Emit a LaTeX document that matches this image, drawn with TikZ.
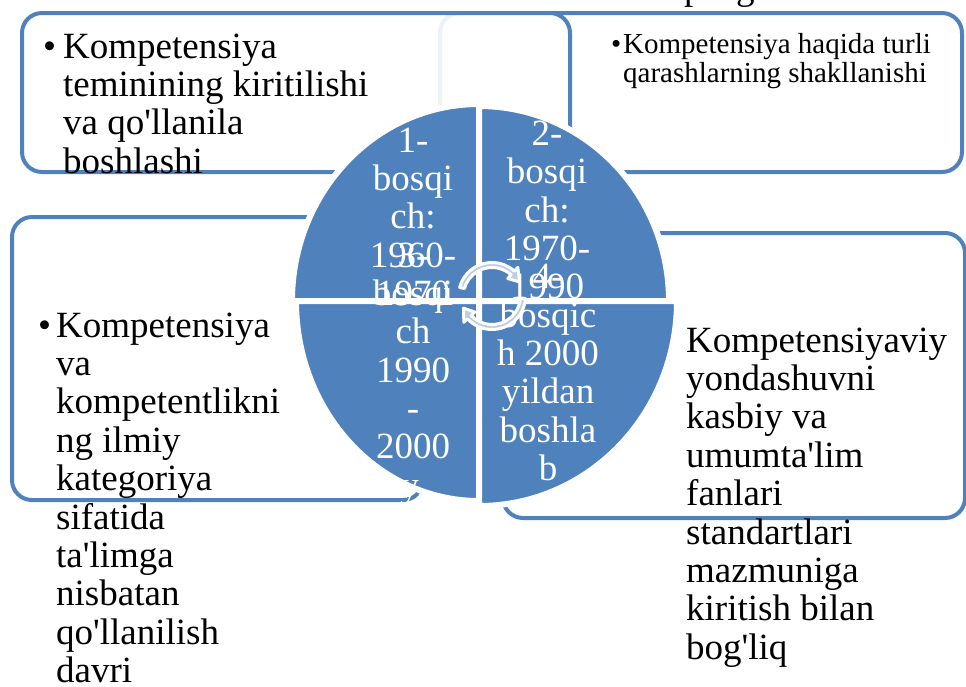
\documentclass[tikz,border=0pt]{standalone}
\usepackage{fontspec}
\setmainfont{Liberation Serif}[Ligatures=TeXOff]
\definecolor{accent}{RGB}{79,129,189}
\definecolor{arrowfill}{RGB}{190,205,228}
\begin{document}
\begin{tikzpicture}[x=1pt,y=-1pt,
  frame/.style={draw=accent, line width=4pt, rounded corners=20pt, fill=white, inner sep=0pt, outer sep=0pt},
  big/.style={font=\fontsize{37}{38}\selectfont, inner sep=0pt},
  small/.style={font=\fontsize{29}{29}\selectfont, inner sep=0pt},
  bline/.style={big, anchor=base west},
  sline/.style={small, anchor=base west},
  qtext/.style={big, anchor=base, text=white},
  quad/.style={fill=accent, draw=white, line width=6pt},
  carrow/.style={fill=arrowfill, draw=white, line width=3pt, line join=round}]
\useasboundingbox (0,0) rectangle (966,686);
\clip (0,0) rectangle (966,686);

% cut-off text fragments at the top edge
\node[big, anchor=base west] (fragp) at (684,-1) {p};
\node[big, anchor=base west] (fragg) at (736,-1) {g};

% corner boxes
\node[frame, minimum width=522pt, minimum height=159pt, anchor=north west] (tr) at (440,13) {};
\node[frame, fill opacity=0.9, minimum width=548pt, minimum height=159pt, anchor=north west] (tl) at (22,13) {};
\node[frame, minimum width=411pt, minimum height=283pt, anchor=north west] (bl) at (12,217) {};
\node[frame, minimum width=462pt, minimum height=285pt, anchor=north west] (br) at (503,233) {};

% box texts
\node[bline] (tlb) at (43,58) {•};
\foreach \t [count=\i from 0] in {Kompetensiya, teminining kiritilishi, va qo'llanila, boshlashi}
  \node[bline] (tl\i) at (63,{58+38.4*\i}) {\t};

\node[sline] (trb) at (611,53) {•};
\node[sline] (tr0) at (623,53) {Kompetensiya haqida turli};
\node[sline] (tr1) at (623,82) {qarashlarning shakllanishi};

\node[bline] (blb) at (38,337) {•};
\foreach \t [count=\i from 0] in {Kompetensiya, va, kompetentlikni, ng ilmiy, kategoriya, sifatida, ta'limga, nisbatan, qo'llanilish, davri}
  \node[bline] (bl\i) at (56,{337+38.4*\i}) {\t};

\foreach \t [count=\i from 0] in {Kompetensiyaviy, yondashuvni, kasbiy va, umumta'lim, fanlari, standartlari, mazmuniga, kiritish bilan, bog'liq}
  \node[bline] (br\i) at (686,{352+38.4*\i}) {\t};

% circle quadrants
\coordinate (c) at (479,301);
\draw[quad] (c) -- ++(-187,0) arc[start angle=180, end angle=270, x radius=187, y radius=197] -- cycle;
\draw[quad] (c) -- ++(0,-195) arc[start angle=270, end angle=360, x radius=190, y radius=195] -- cycle;
\draw[quad] (c) -- ++(-183,0) arc[start angle=180, end angle=90, x radius=183, y radius=200] -- cycle;
\draw[quad] (c) -- ++(198,0) arc[start angle=0, end angle=90, x radius=198, y radius=205] -- cycle;

% quadrant texts
\foreach \t/\y [count=\i] in {1-/152, bosqi/190, ch:/228, 1960-/267, 1970/305}
  \node[qtext] (qa\i) at (413,\y) {\t};
\foreach \t/\y [count=\i] in {2-/145, bosqi/183, ch:/222, 1970-/260, 1990/298}
  \node[qtext] (qb\i) at (547,\y) {\t};
\foreach \t/\y [count=\i] in {3-/267, bosqi/305, ch/343, 1990/382, -/420, 2000/458, y./497}
  \node[qtext] (qc\i) at (413,\y) {\t};
\foreach \t/\y [count=\i] in {4-/288, bosqic/327, h 2000/365, yildan/403, boshla/442, b/480}
  \node[qtext] (qd\i) at (548,\y) {\t};

% central circular arrows
\begin{scope}[shift={(492,296)}, yscale=-1]
  \draw[carrow] (165:28.5) arc[start angle=165, end angle=48, radius=28.5]
     -- (48:23.5) -- (27:31) -- (48:38.5) -- (48:33.5)
     arc[start angle=48, end angle=165, radius=33.5] -- cycle;
  \draw[carrow] (-5:28.5) arc[start angle=-5, end angle=-137, radius=28.5]
     -- (-137:23.5) -- (-157:31) -- (-137:38.5) -- (-137:33.5)
     arc[start angle=-137, end angle=-5, radius=33.5] -- cycle;
\end{scope}
\end{tikzpicture}
\end{document}
